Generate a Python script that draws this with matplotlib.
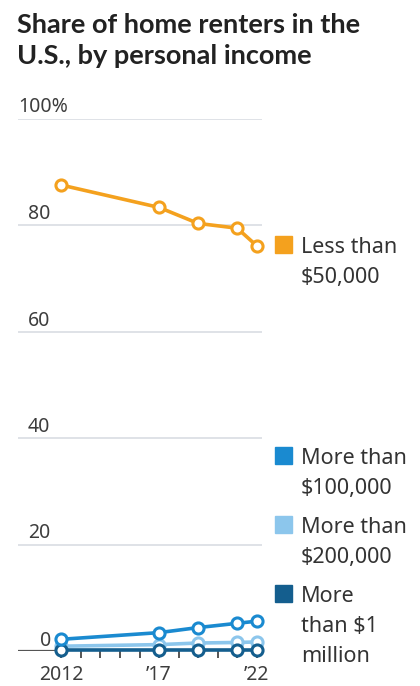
import matplotlib
matplotlib.use("Agg")
import matplotlib.pyplot as plt

years = [2012, 2017, 2019, 2021, 2022]
less_50k = [87.5, 83.3, 80.3, 79.4, 76.1]
more_100k = [2.2, 3.45, 4.4, 5.2, 5.6]
more_200k = [0.9, 1.2, 1.5, 1.6, 1.7]
more_1m = [0.1, 0.1, 0.1, 0.1, 0.1]
series_lines = [["Less than", "$50,000"], ["More than", "$100,000"],
                ["More than", "$200,000"], ["More", "than $1", "million"]]
colors = ["#F4A11E", "#1A8AD0", "#8CC6EC", "#145E8E"]
yticks = [0, 20, 40, 60, 80, 100]
xtick_labels = {2012: "2012", 2017: "\u201917", 2022: "\u201922"}
title_lines = ["Share of home renters in the", "U.S., by personal income"]

W, H = 420, 686
fig = plt.figure(figsize=(W / 100, H / 100), dpi=100)
plt.rcParams['font.family'] = ['Noto Sans', 'DejaVu Sans']

def fx(px):
    return px / W

def fy(py):
    return 1 - py / H

LBL = "#3d3d3d"
ax_left, ax_right, ax_top, ax_bottom = 18, 262, 118.5, 651
ax = fig.add_axes([fx(ax_left), fy(ax_bottom), fx(ax_right - ax_left), (ax_bottom - ax_top) / H])
ax.set_xlim(2009.78, 2022.27)
ax.set_ylim(0, 100)
for s in ax.spines.values():
    s.set_visible(False)
ax.set_yticks([])
ax.set_xticks([])
ax.patch.set_alpha(0)

for t in yticks:
    if t == 0:
        ax.axhline(0, color="#555555", lw=1.6, zorder=2)
    else:
        ax.axhline(t, color="#d6dae0", lw=1.1, zorder=1)

# x ticks below baseline
for yr in range(2012, 2023):
    ax.plot([yr, yr], [0, -1.3], color="#555555", lw=1.4, clip_on=False, zorder=2,
            solid_capstyle="butt")

def data_to_px(x, y):
    dx, dy = ax.transData.transform((x, y))
    return dx, H - dy

for yr, lab in xtick_labels.items():
    px, py = data_to_px(yr, 0)
    fig.text(fx(px), fy(py + 29), lab, ha="center", va="baseline", fontsize=14, color=LBL)

# y labels
for t in yticks:
    px, py = data_to_px(2009.78, t)
    if t == 100:
        fig.text(fx(18), fy(py - 6), "100%", ha="left", va="baseline", fontsize=14, color=LBL)
    elif t == 0:
        fig.text(fx(51), fy(py - 5), "0", ha="right", va="baseline", fontsize=14, color=LBL)
    else:
        fig.text(fx(28), fy(py - 6), str(t), ha="left", va="baseline", fontsize=14, color=LBL)

all_series = [less_50k, more_100k, more_200k, more_1m]
order = [2, 3, 1, 0]
for z, i in enumerate(order):
    ax.plot(years, all_series[i], color=colors[i], lw=2.6, marker="o", ms=8,
            mfc="white", mec=colors[i], mew=2.2, clip_on=False, zorder=3 + z)

# legend
legend_tops = [236, 447, 516, 585]
for i, top in enumerate(legend_tops):
    fig.patches.append(plt.Rectangle((fx(275), fy(top + 17)), fx(17), 17 / H,
                                     transform=fig.transFigure, color=colors[i]))
    base = top + 17
    for k, line in enumerate(series_lines[i]):
        fig.text(fx(301), fy(base + 30 * k), line, ha="left", va="baseline",
                 fontsize=15.5, color="#333333")

for k, line in enumerate(title_lines):
    fig.text(fx(17), fy(33 + 31 * k), line, ha="left", va="baseline",
             fontsize=19.5, fontweight="bold", color="#222222", family=["Lato", "DejaVu Sans"])

fig.savefig("out.png", dpi=100, facecolor="white")
